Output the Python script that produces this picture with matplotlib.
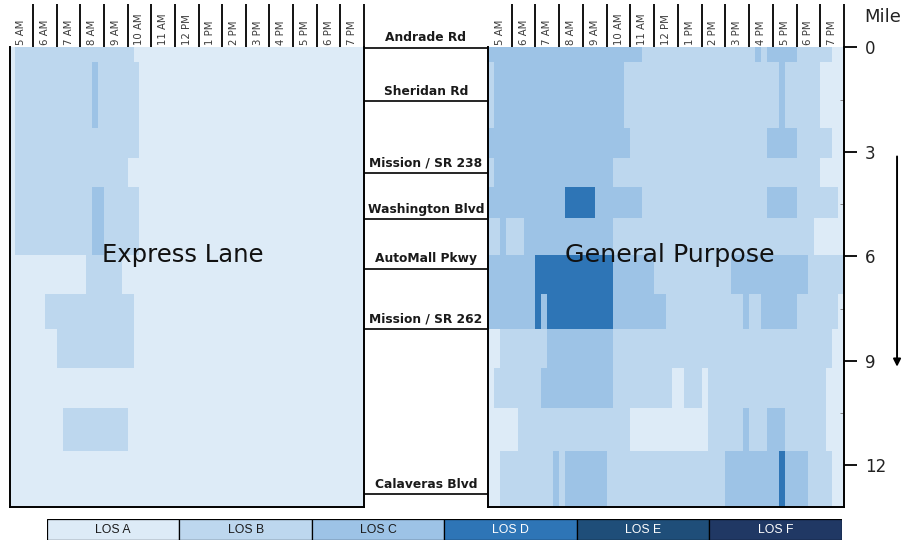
import numpy as np
import matplotlib
matplotlib.use("Agg")
import matplotlib.pyplot as plt
from matplotlib.colors import ListedColormap

# LOS levels (0 = A ... 5 = F)
los_labels = ["LOS A", "LOS B", "LOS C", "LOS D", "LOS E", "LOS F"]
los_colors = ["#DDEBF7", "#BDD7EE", "#9DC3E6", "#2E75B6", "#1F4E79", "#203864"]
los_text = ["#1a1a1a", "#1a1a1a", "#1a1a1a", "white", "white", "white"]

hour_labels = ["5 AM", "6 AM", "7 AM", "8 AM", "9 AM", "10 AM", "11 AM", "12 PM",
               "1 PM", "2 PM", "3 PM", "4 PM", "5 PM", "6 PM", "7 PM"]

# mile boundaries of the freeway segments (rows of the heatmap)
segment_miles = [0, 0.42, 2.3, 3.18, 4.0, 4.9, 5.96, 7.07, 8.1, 9.22, 10.35, 11.59, 13.2]

# each row: (start hour, LOS level) runs, level holds until the next start
express_runs = [
    [(5, 0), (5.25, 1), (10.25, 0)],
    [(5, 0), (5.25, 1), (8.5, 2), (8.75, 1), (10.5, 0)],
    [(5, 0), (5.25, 1), (10.5, 0)],
    [(5, 0), (5.25, 1), (10.0, 0)],
    [(5, 0), (5.25, 1), (8.5, 2), (9.0, 1), (10.5, 0)],
    [(5, 0), (5.25, 1), (8.5, 2), (9.0, 1), (10.5, 0)],
    [(5, 0), (8.25, 1), (9.75, 0)],
    [(5, 0), (6.5, 1), (10.25, 0)],
    [(5, 0), (7.0, 1), (10.25, 0)],
    [(5, 0)],
    [(5, 0), (7.25, 1), (10.0, 0)],
    [(5, 0)],
]

general_runs = [
    [(5, 2), (11.5, 1), (16.25, 2), (16.5, 1), (16.75, 2), (18, 1), (19.5, 0)],
    [(5, 1), (5.25, 2), (10.75, 1), (17.25, 2), (17.5, 1), (19, 0)],
    [(5, 2), (11, 1), (16.75, 2), (18, 1), (19.5, 0)],
    [(5, 1), (5.25, 2), (10.25, 1), (19, 0)],
    [(5, 2), (8.25, 3), (9.5, 2), (11.5, 1), (16.75, 2), (18, 1), (19.75, 0)],
    [(5, 1), (5.5, 2), (5.75, 1), (6.5, 2), (10.25, 1), (18.75, 0)],
    [(5, 2), (7, 3), (10.25, 2), (12, 1), (15.25, 2), (18.5, 1)],
    [(5, 2), (7, 3), (7.25, 2), (7.5, 3), (10.25, 2), (12.5, 1), (15.75, 2), (16, 1),
     (16.5, 2), (18, 1), (19.75, 0)],
    [(5, 0), (5.5, 1), (7.5, 2), (10.25, 1), (19.5, 0)],
    [(5, 0), (5.25, 1), (7.25, 2), (10.25, 1), (12.75, 0), (13.25, 1), (14, 0),
     (14.25, 1), (19.25, 0)],
    [(5, 0), (6.25, 1), (11, 0), (14.25, 1), (15.75, 2), (16, 1), (16.75, 2),
     (17.5, 1), (19.25, 0)],
    [(5, 0), (5.5, 1), (7.75, 2), (8, 1), (8.25, 2), (10, 1), (15, 2), (17.25, 3),
     (17.5, 2), (18.5, 1), (19.5, 0)],
]

road_names = ["Andrade Rd", "Sheridan Rd", "Mission / SR 238", "Washington Blvd",
              "AutoMall Pkwy", "Mission / SR 262", "Calaveras Blvd"]
road_miles = [0, 1.54, 3.6, 4.93, 6.35, 8.09, 12.84]
mile_ticks = [0, 3, 6, 9, 12]

slot = 0.25
time_edges = np.arange(5, 20 + slot / 2, slot)


def build_grid(runs):
    starts = time_edges[:-1]
    grid = np.zeros((len(runs), len(starts)))
    for i, row in enumerate(runs):
        for start, level in row:
            grid[i, starts >= start] = level
    return grid


W, H = 904, 540
def box(x0, y0, x1, y1):
    return [x0 / W, 1 - y1 / H, (x1 - x0) / W, (y1 - y0) / H]


plt.rcParams["font.family"] = "DejaVu Sans"
cmap = ListedColormap(los_colors)
fig = plt.figure(figsize=(W / 100, H / 100), dpi=100)

panel_top, panel_bot = 47.5, 507
mile_max = segment_miles[-1]


def draw_panel(ax, runs, title, title_x, title_size):
    ax.pcolormesh(time_edges, segment_miles, build_grid(runs), cmap=cmap,
                  vmin=-0.5, vmax=5.5, shading="flat", edgecolors="none",
                  antialiased=False)
    ax.set_xlim(5, 20)
    ax.set_ylim(mile_max, 0)
    ax.spines["top"].set_visible(False)
    for s in ["left", "right", "bottom"]:
        ax.spines[s].set_linewidth(1.4)
    ax.xaxis.tick_top()
    ax.set_xticks(np.arange(6, 21))
    ax.set_xticklabels([])
    ax.set_xticks(np.arange(5.5, 20, 1), minor=True)
    ax.set_xticklabels(hour_labels, minor=True, rotation=90, fontsize=7.3,
                       color="#3a3a3a")
    ax.tick_params(axis="x", which="major", length=31, width=1.3, direction="out")
    ax.tick_params(axis="x", which="minor", length=0, pad=1.5)
    ax.set_yticks([])
    ax.text(title_x, 5.96, title, transform=ax.get_yaxis_transform(),
            ha="center", va="center", fontsize=title_size, color="#111111")


ax_el = fig.add_axes(box(9.5, panel_top, 364, panel_bot))
draw_panel(ax_el, express_runs, "Express Lane", 0.49, 17.5)

ax_gp = fig.add_axes(box(488, panel_top, 844, panel_bot))
draw_panel(ax_gp, general_runs, "General Purpose", 0.511, 18.3)
ax_gp.yaxis.tick_right()
ax_gp.set_yticks(mile_ticks)
ax_gp.set_yticklabels([str(m) for m in mile_ticks], fontsize=12, color="#222222")
ax_gp.set_yticks([1.5, 4.5, 7.5, 10.5], minor=True)
ax_gp.tick_params(axis="y", which="major", length=9, width=1.3, pad=6)
ax_gp.tick_params(axis="y", which="minor", length=3, width=0.6, direction="in",
                  color="#777777")
ax_gp.text(1.11, -0.88, "Mile", transform=ax_gp.get_yaxis_transform(),
           ha="center", va="center", fontsize=13, color="#222222")
ax_gp.annotate("", xy=(1.149, 9.25), xytext=(1.149, 3.05),
               xycoords=ax_gp.get_yaxis_transform(),
               arrowprops=dict(arrowstyle="-|>", color="black", lw=1.4,
                               mutation_scale=11),
               annotation_clip=False)

# road names between the panels
mile_per_px = mile_max / (panel_bot - panel_top)
ax_mid = fig.add_axes(box(364, 0, 488, panel_bot))
ax_mid.set_xlim(0, 1)
ax_mid.set_ylim(mile_max, -panel_top * mile_per_px)
ax_mid.axis("off")
for name, m in zip(road_names, road_miles):
    ax_mid.plot([0, 1], [m, m], color="black", lw=1.2, solid_capstyle="butt")
    ax_mid.text(0.5, m - 0.1, name, ha="center", va="bottom", fontsize=8.8,
                fontweight="bold", color="#1a1a1a")

# legend strip
ax_leg = fig.add_axes(box(47, 519, 842, 539.5))
ax_leg.bar(np.arange(len(los_labels)), 1, width=1, color=los_colors,
           edgecolor="black", linewidth=0.9)
for i, (lab, tc) in enumerate(zip(los_labels, los_text)):
    ax_leg.text(i, 0.45, lab, ha="center", va="center", fontsize=8.8, color=tc,
                family="Liberation Sans")
ax_leg.set_xlim(-0.5, len(los_labels) - 0.5)
ax_leg.set_ylim(0, 1)
ax_leg.axis("off")

fig.savefig("out.png", dpi=100)
